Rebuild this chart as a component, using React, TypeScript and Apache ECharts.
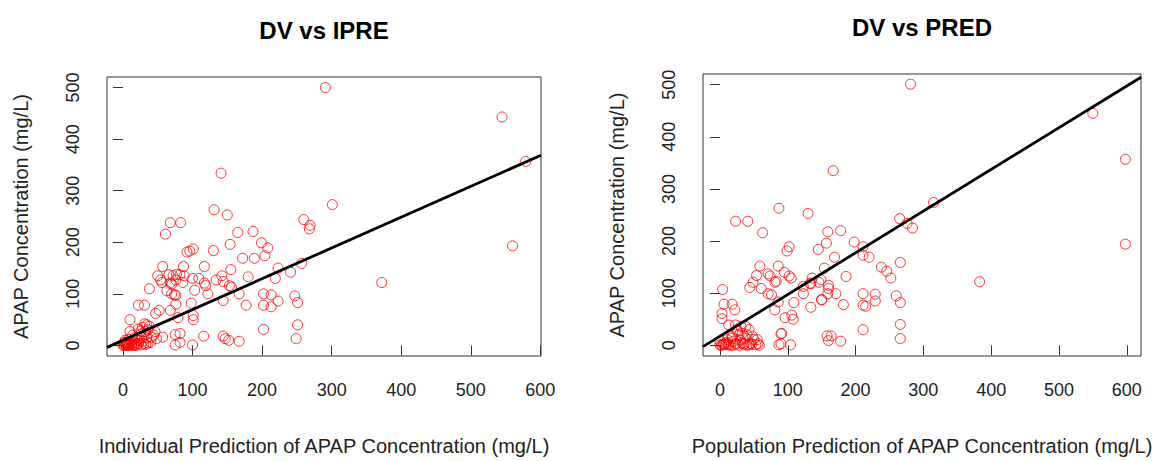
import React, { useEffect, useRef } from "react";
import * as echarts from "echarts";

// ---- Left panel: DV vs IPRE ----
const ipreX = [
  291, 141, 301, 131, 150, 68, 83, 61, 260, 269,
  268, 165, 187, 199, 208, 204, 154, 130, 92, 96,
  101, 172, 189, 257, 241, 223, 219, 57, 87, 117,
  155, 50, 54, 56, 66, 72, 77, 82, 88, 76,
  70, 86, 68, 100, 109, 117, 119, 122, 103, 134,
  142, 144, 153, 156, 180, 167, 144, 177, 202, 213,
  223, 202, 213, 247, 251, 251, 249, 202, 167, 152,
  144, 147, 116, 100, 75, 82, 75, 82, 57, 38,
  63, 70, 74, 76, 98, 76, 68, 52, 47, 79,
  101, 101, 22, 31, 10,
  10, 22, 28, 34, 38, 32, 25, 17, 27, 34,
  41, 46, 48, 12, 3, 8, 20, 36, 29, 0,
  15, 5, 2, 10, 6, 12, 18, 24, 30, 40,
  44, 14, 20, 8, 3, 26, 31, 36,
  1, 4, 7, 9, 13, 16, 19, 22, 26, 33, 2, 6,
  545, 579, 560, 372,
];
const dvIpre = [
  500, 334, 273, 263, 253, 238, 238, 216, 244, 233,
  226, 219, 221, 199, 189, 174, 196, 184, 181, 183,
  187, 169, 169, 159, 142, 150, 130, 153, 153, 153,
  147, 135, 127, 122, 137, 135, 138, 137, 135, 127,
  119, 122, 121, 130, 130, 121, 116, 100, 107, 127,
  135, 124, 116, 113, 133, 100, 87, 78, 100, 98,
  86, 78, 75, 96, 83, 40, 13, 31, 8, 10,
  18, 13, 18, 1, 1, 6, 21, 23, 16, 110,
  106, 100, 98, 97, 82, 80, 68, 68, 62, 54,
  58, 50, 78, 78, 50,
  27, 32, 35, 40, 37, 27, 22, 15, 15, 15,
  16, 27, 13, 8, 5, 2, 2, 5, 8, 0,
  0, 3, 1, 4, 0, 1, 5, 9, 3, 6,
  20, 20, 12, 12, 10, 28, 42, 30,
  2, 0, 1, 0, 3, 1, 0, 4, 1, 2, 6, 7,
  443, 357, 193, 122,
];
const ipreFit = { intercept: 9.9, slope: 0.597 };

// ---- Right panel: DV vs PRED ----
const predX = [
  281, 167, 87, 130, 23, 41, 63, 315, 265, 276,
  284, 159, 178, 198, 211, 211, 220, 157, 145, 102,
  99, 169, 266, 238, 246, 252, 186, 154, 149, 160,
  160, 136, 134, 123, 123, 171, 159, 150, 134, 182,
  211, 211, 215, 229, 229, 260, 266, 266, 266, 211,
  158, 164, 160, 178, 104, 90, 87, 90, 91, 96,
  106, 108, 109, 86, 81, 59, 86, 54, 71, 74,
  83, 95, 102, 105, 49, 61, 44, 71, 76, 81,
  133, 146, 150, 4, 6, 18, 22, 3, 3,
  13, 23, 31, 38, 43, 26, 33, 40, 48, 55,
  18, 11, 0, 3, 13, 23, 33, 43, 53, 0,
  28, 18, 38, 50, 8, 16, 28, 35, 45, 6,
  10, 20, 30, 25, 2, 5, 9, 12, 20, 24,
  36, 40, 47, 56, 58,
  550, 598, 598, 383,
];
const dvPred = [
  501, 335, 263, 253, 238, 238, 216, 274, 243, 234,
  225, 218, 220, 198, 189, 173, 169, 196, 184, 189,
  181, 169, 159, 150, 142, 129, 132, 148, 126, 115,
  109, 129, 118, 113, 99, 99, 99, 88, 73, 78,
  99, 77, 75, 98, 85, 95, 82, 40, 13, 30,
  18, 18, 9, 8, 1, 3, 1, 22, 23, 53,
  58, 50, 82, 83, 68, 152, 152, 134, 137, 133,
  123, 140, 133, 129, 121, 109, 111, 99, 97, 121,
  119, 121, 87, 107, 79, 79, 68, 61, 51,
  39, 39, 36, 36, 30, 27, 23, 20, 17, 11,
  17, 11, 8, 1, 1, 4, 4, 1, 1, 1,
  20, 14, 14, 11, 4, 0, 0, 1, 4, 2,
  6, 8, 10, 30, 0, 2, 1, 3, 0, 2,
  3, 0, 2, 3, 0,
  445, 357, 194, 122,
];
const predFit = { intercept: 17.5, slope: 0.8 };

// ---- Axes ----
const xTicks = [0, 100, 200, 300, 400, 500, 600];
const yTicks = [0, 100, 200, 300, 400, 500];
const titles = ["DV vs IPRE", "DV vs PRED"];
const xNames = [
  "Individual Prediction of APAP Concentration (mg/L)",
  "Population Prediction of APAP Concentration (mg/L)",
];
const yName = "APAP Concentration (mg/L)";

const FONT = '"Liberation Sans", Arial, sans-serif';
const XRANGES = [
  [-23, 601],
  [-25, 621],
];
const YRANGE = [-20.5, 520.5];

export default function App() {
  const ref = useRef<HTMLDivElement>(null);

  useEffect(() => {
    if (!ref.current) return;
    const chart = echarts.init(ref.current, null, { renderer: "svg" });

    const fits = [ipreFit, predFit];
    const xs = [ipreX, predX];
    const ys = [dvIpre, dvPred];

    const grids = [
      { left: 107, top: 77, width: 434, height: 284 },
      { left: 703, top: 74, width: 438, height: 286 },
    ];

    const xAxis = [0, 1].map((i) => ({
      gridIndex: i,
      type: "value",
      min: XRANGES[i][0],
      max: XRANGES[i][1],
      axisLine: { show: false },
      splitLine: { show: false },
      axisTick: {
        show: true,
        customValues: xTicks,
        length: 10,
        lineStyle: { color: "#333", width: 1 },
      },
      axisLabel: {
        customValues: xTicks,
        margin: 25,
        fontSize: 18,
        color: "#222",
        fontFamily: FONT,
      },
      name: xNames[i],
      nameLocation: "middle",
      nameGap: 80,
      nameTextStyle: { fontSize: 20, color: "#222", fontFamily: FONT },
    }));

    const yAxis = [0, 1].map((i) => ({
      gridIndex: i,
      type: "value",
      min: YRANGE[0],
      max: YRANGE[1],
      axisLine: { show: false },
      splitLine: { show: false },
      axisTick: {
        show: true,
        customValues: yTicks,
        length: 10,
        lineStyle: { color: "#333", width: 1 },
      },
      axisLabel: {
        customValues: yTicks,
        rotate: 90,
        margin: 25,
        fontSize: 18,
        color: "#222",
        fontFamily: FONT,
      },
      name: yName,
      nameLocation: "middle",
      nameGap: 76,
      nameTextStyle: { fontSize: 20, color: "#222", fontFamily: FONT },
    }));

    const series: any[] = [];
    [0, 1].forEach((i) => {
      series.push({
        type: "scatter",
        xAxisIndex: i,
        yAxisIndex: i,
        symbol: "circle",
        symbolSize: 10,
        itemStyle: {
          color: "rgba(0,0,0,0)",
          borderColor: "#ff0000",
          borderWidth: 1,
        },
        data: xs[i].map((x, k) => [x, ys[i][k]]),
        silent: true,
      });
      const f = fits[i];
      const [x0, x1] = XRANGES[i];
      series.push({
        type: "line",
        xAxisIndex: i,
        yAxisIndex: i,
        symbol: "none",
        lineStyle: { color: "#000", width: 2.8 },
        data: [
          [x0, f.intercept + f.slope * x0],
          [x1, f.intercept + f.slope * x1],
        ],
        silent: true,
      });
    });

    chart.setOption({
      animation: false,
      backgroundColor: "#ffffff",
      grid: grids.map((g) => ({
        ...g,
        show: true,
        borderColor: "#333",
        borderWidth: 1,
        backgroundColor: "transparent",
      })),
      xAxis,
      yAxis,
      series,
      graphic: [
        {
          type: "text",
          x: 324,
          y: 30,
          style: {
            text: titles[0],
            fill: "#000",
            fontSize: 24,
            fontWeight: "bold",
            fontFamily: FONT,
            align: "center",
            verticalAlign: "middle",
          },
        },
        {
          type: "text",
          x: 922,
          y: 27,
          style: {
            text: titles[1],
            fill: "#000",
            fontSize: 24,
            fontWeight: "bold",
            fontFamily: FONT,
            align: "center",
            verticalAlign: "middle",
          },
        },
      ],
    });

    return () => chart.dispose();
  }, []);

  return (
    <div
      ref={ref}
      style={{ position: "absolute", left: 0, top: 0, width: 1163, height: 461 }}
    />
  );
}
